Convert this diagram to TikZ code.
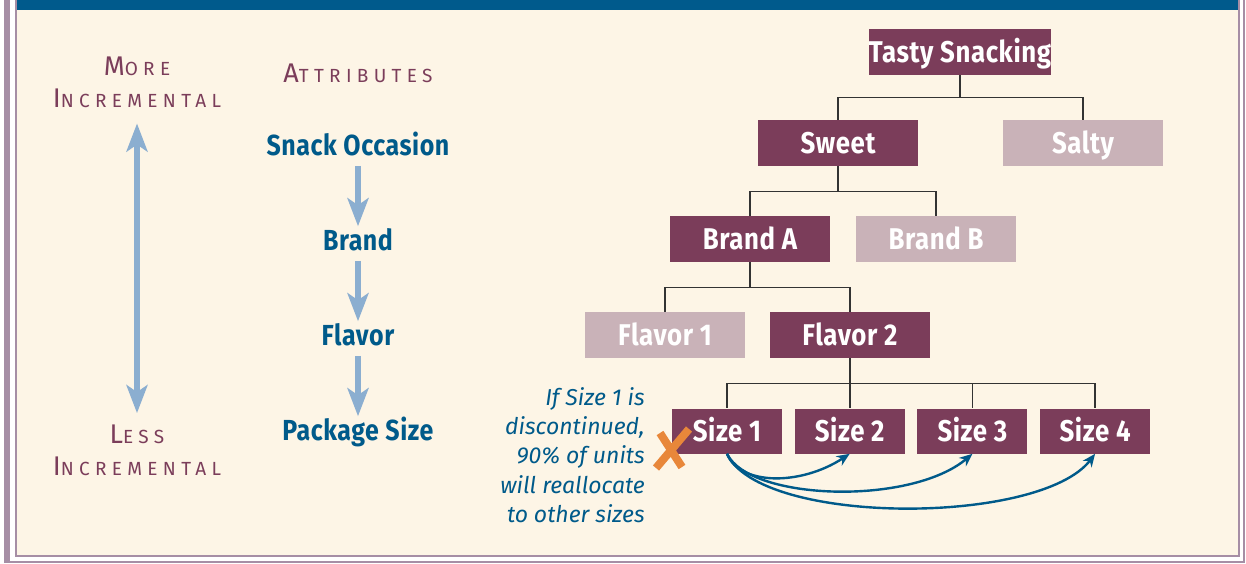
\documentclass[tikz,border=0pt]{standalone}
\usepackage{fontspec}
\setmainfont{Fira Sans}
\newfontfamily\boxfont[FakeStretch=0.86, LetterSpace=2]{Fira Sans}
\newfontfamily\capsfont[LetterSpace=28]{Fira Sans}
\usetikzlibrary{arrows.meta}
\definecolor{plum}{RGB}{123,61,90}
\definecolor{plumlight}{RGB}{201,178,184}
\definecolor{navy}{RGB}{0,90,138}
\definecolor{skyblue}{RGB}{139,174,208}
\definecolor{cream}{RGB}{253,245,230}
\definecolor{framec}{RGB}{166,142,165}
\definecolor{topbar}{RGB}{0,90,140}
\definecolor{xorange}{RGB}{232,135,58}
\newcommand{\capword}[2]{{\fontsize{27}{27}\selectfont #1}#2}
\begin{document}
\begin{tikzpicture}[x=1pt, y=-1pt, semithick, every node/.style={node distance=96pt}]
    \tikzset{box/.style={fill=plum, text=white, minimum width=160pt, minimum height=46pt, inner sep=0pt, text height=21pt, text depth=0pt, font=\boxfont\bfseries\fontsize{30}{30}\selectfont}};
    \tikzset{faded/.style={box, fill=plumlight}};
    \tikzset{sizebox/.style={box, minimum width=110pt, minimum height=45pt}};
    \tikzset{attr/.style={text=navy, inner sep=0pt, text height=21pt, text depth=0pt, font=\boxfont\bfseries\fontsize{29}{29}\selectfont}};
    \tikzset{scalelabel/.style={text=plum, inner sep=0pt, font=\capsfont\fontsize{19}{19}\selectfont}};
    \tikzset{tree/.style={draw=black!80, line width=1.6pt, to path={(\tikztostart.south) -- ++(0,#1) -| (\tikztotarget.north)}}, tree/.default=25};
    \tikzset{fathead/.tip={Stealth[length=28pt, width=21pt, inset=7pt]}};
    \tikzset{flow/.style={draw=skyblue, line width=6pt, -fathead}};
    \tikzset{realloc/.style={draw=navy, line width=2.4pt, -{Stealth[length=13pt, width=11pt]}}};
    \useasboundingbox (0,0) rectangle (1246,563);
    % frame
    \fill[white] (0,0) rectangle (1246,563);
    \fill[framec] (4,0) rectangle (10,563);
    \draw[framec, line width=2pt] (10,562) -- (1244,562) -- (1244,0);
    \fill[cream] (16,10) rectangle (1239,556);
    \draw[framec, line width=2pt] (16,0) -- (16,556) -- (1239,556) -- (1239,0);
    \fill[topbar] (17,0) rectangle (1238,10);
    % scale
    \node[scalelabel, anchor=base] (lMore) at (137,75) {\capword{M}{ORE}};
    \node[scalelabel, anchor=base] (lMoreB) at (137,107) {\capword{I}{NCREMENTAL}};
    \node[scalelabel, anchor=base] (lLess) at (137,443) {\capword{L}{ESS}};
    \node[scalelabel, anchor=base] (lLessB) at (137,475) {\capword{I}{NCREMENTAL}};
    \draw[flow, fathead-fathead, shorten <=16pt, shorten >=11pt] (lMoreB.south) -- (lMoreB.south |- lLess.north);
    % attributes
    \node[scalelabel, anchor=base] (aHead) at (358,82) {\capword{A}{TTRIBUTES}};
    \node[attr] (aSnack) at (358,145) {Snack Occasion};
    \node[attr, below of=aSnack, node distance=95pt] (aBrand) {Brand};
    \node[attr, below of=aBrand, node distance=95pt] (aFlavor) {Flavor};
    \node[attr, below of=aFlavor, node distance=95pt] (aPack) {Package Size};
    {
       \path[shorten <=10pt, shorten >=3pt]
        (aSnack) edge[flow] (aBrand)
        (aBrand) edge[flow] (aFlavor)
        (aFlavor) edge[flow] (aPack)
        ;
    }
    % hierarchy
    \node[box] (sTasty) at (960,52) {Tasty Snacking};
    \node[box, below of=sTasty, node distance=91pt, xshift=-122pt] (sSweet) {Sweet};
    \node[faded, right of=sSweet, node distance=245pt] (sSalty) {Salty};
    \node[box, below of=sSweet, xshift=-88pt] (sBrandA) {Brand A};
    \node[faded, right of=sBrandA, node distance=186pt] (sBrandB) {Brand B};
    \node[box, below of=sBrandA, xshift=100pt] (sFlavor2) {Flavor 2};
    \node[faded, left of=sFlavor2, node distance=185pt] (sFlavor1) {Flavor 1};
    \node[sizebox, below of=sFlavor2, xshift=-123pt] (sSize1) {Size 1};
    \node[sizebox, right of=sSize1, node distance=122.7pt] (sSize2) {Size 2};
    \node[sizebox, right of=sSize2, node distance=122.7pt] (sSize3) {Size 3};
    \node[sizebox, right of=sSize3, node distance=122.7pt] (sSize4) {Size 4};
    {
       \path
        (sTasty) edge[tree=22] (sSweet)
        (sTasty) edge[tree=22] (sSalty)
        (sSweet) edge[tree] (sBrandA)
        (sSweet) edge[tree] (sBrandB)
        (sBrandA) edge[tree] (sFlavor1)
        (sBrandA) edge[tree] (sFlavor2)
        (sFlavor2) edge[tree] (sSize1)
        (sFlavor2) edge[tree] (sSize2)
        (sFlavor2) edge[tree] (sSize3)
        (sFlavor2) edge[tree] (sSize4)
        ;
    }
    % reallocation
    \node[text=navy, align=right, anchor=north east, inner sep=0pt, font=\itshape\fontsize{23}{29.3}\selectfont] (sNote) at (645,387) {If Size 1 is\\discontinued,\\90\% of units\\will reallocate\\to other sizes};
    \draw[xorange, line width=8pt] (656,468) -- (689,429) (660,433) -- (682,467);
    \draw[realloc] (sSize1.south) .. controls +(13,32) and +(-49,32) .. (sSize2.south);
    \draw[realloc] (sSize1.south) .. controls +(23,47) and +(-62,52) .. (sSize3.south);
    \draw[realloc] (sSize1.south) .. controls +(33,72) and +(-55,72) .. (sSize4.south);
\end{tikzpicture}
\end{document}
